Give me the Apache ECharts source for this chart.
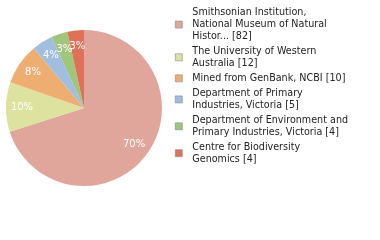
<!DOCTYPE html>
<html>
<head>
<meta charset="utf-8">
<script src="https://cdn.jsdelivr.net/npm/echarts@6/dist/echarts.min.js"></script>
<style>
html,body{margin:0;padding:0;background:#fff;}
#chart{width:380px;height:240px;}
</style>
</head>
<body>
<div id="chart"></div>
<script>
// institutions (legend text already wrapped like the original)
const names = [
  'Smithsonian Institution,\nNational Museum of Natural\nHistor...',
  'The University of Western\nAustralia',
  'Mined from GenBank, NCBI',
  'Department of Primary\nIndustries, Victoria',
  'Department of Environment and\nPrimary Industries, Victoria',
  'Centre for Biodiversity\nGenomics'
]
const counts = [82, 12, 10, 5, 4, 4]
const colors = ['#e1a69b', '#dde29e', '#eeae72', '#a0bde2', '#a0c67c', '#df7158']

const total = counts.reduce((a, b) => a + b, 0)
let pieData = names.map((n, i) => ({name: n, value: counts[i], itemStyle: {color: colors[i]}}))

const chart = echarts.init(document.getElementById('chart'))
const option = {
  animation: false,
  legend: {
    orient: 'vertical',
    left: 170,
    top: 2,
    icon: 'rect',
    itemWidth: 7,
    itemHeight: 7,
    itemGap: 3.5,
    itemStyle: {borderColor: '#888', borderWidth: 0.6},
    formatter: (name) => name + ' [' + counts[names.indexOf(name)] + ']',
    textStyle: {fontFamily: 'DejaVu Sans', fontSize: 9.6, color: '#222', lineHeight: 11.7, padding: [0, 0, 0, 5]},
    data: names
  },
  series: [
    {
      type: 'pie',
      center: [84, 108],
      radius: [0, 78],
      startAngle: 90,
      label: {show: false},
      labelLine: {show: false},
      silent: true,
      data: pieData
    },
    {
      // transparent ring only used to place percentage labels
      type: 'pie',
      center: [84, 108],
      radius: [42, 76],
      startAngle: 90,
      silent: true,
      itemStyle: {color: 'rgba(0,0,0,0)'},
      label: {
        position: 'inside',
        color: '#fff',
        fontFamily: 'DejaVu Sans',
        fontSize: 10,
        formatter: (p) => Math.floor(p.value / total * 100) + '%'
      },
      labelLayout: {hideOverlap: false},
      labelLine: {show: false},
      legendHoverLink: false,
      data: counts.map((v, i) => ({name: 'lbl' + i, value: v}))
    }
  ]
}
chart.setOption(option)
</script>
</body>
</html>
